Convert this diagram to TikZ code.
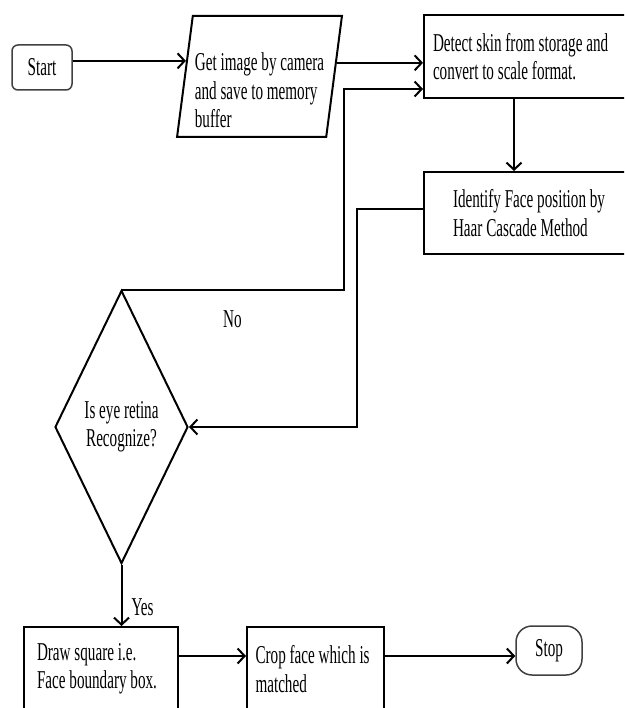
\documentclass[tikz,border=0pt]{standalone}
\usepackage{fontspec}
\setmainfont[FakeStretch=0.59]{Liberation Serif}
\usetikzlibrary{shapes.geometric,arrows.meta}

\begin{document}
\begin{tikzpicture}[
x=1pt,y=-1pt,
>={Straight Barb[length=7pt,width=15pt]},
every node/.style={font=\fontsize{25.7}{28.5}\selectfont},
terminal/.style={draw=black!75,line width=1.5pt,rounded corners=6pt},
process/.style={draw,line width=2pt,align=flush left,inner ysep=0pt},
io/.style={draw,line width=2pt,trapezium,trapezium left angle=81.6,trapezium right angle=98.4,
  trapezium stretches=true,minimum width=165pt,minimum height=121pt,align=left,inner sep=0pt},
decision/.style={draw,line width=2pt,diamond,minimum width=133pt,minimum height=273pt,align=center,inner sep=0pt},
flow/.style={->,line width=2pt}
]
\useasboundingbox (0,0) rectangle (624,708);
\clip (0,0) rectangle (624,708);

\node[terminal,minimum width=60pt,minimum height=45pt] (start) at (42,67.5) {Start};
\node[io] (get) at (259.5,76.5) {\rule{0pt}{46pt}Get image by camera\\and save to memory\\buffer};
\node[process,anchor=west,inner xsep=9pt,text width=200pt,minimum height=83pt] (detect) at (423,56.5)
  {Detect skin from storage and\\convert to scale format.};
\node[process,anchor=west,inner xsep=29pt,text width=180pt,minimum height=82pt] (identify) at (423,213)
  {Identify Face position by\\Haar Cascade Method};
\node[decision] (retina) at (121.5,427) {Is eye retina\\Recognize?};
\node[process,anchor=north west,inner xsep=13pt,text width=128pt,minimum height=84pt] (square) at (23,626)
  {Draw square i.e.\\Face boundary box.};
\node[process,anchor=north west,inner xsep=8.5pt,text width=120pt,minimum height=84pt] (crop) at (246,626)
  {Crop face which is\\matched};
\node[terminal,rounded corners=16pt,minimum width=66pt,minimum height=49pt] (stop) at (549,650.5) {Stop};

\draw[flow] (start.east |- get.168.6) -- (get.168.6);
\draw[flow] (get.10.8) -- (get.10.8 -| detect.west);
\draw[flow] ([xshift=91pt]detect.south west) -- ([xshift=91pt]detect.south west |- identify.north);
\draw[flow] ([yshift=4pt]identify.west) -- ++(-66,0) |- (retina.east);
\draw[flow] (retina.north) -- ++(222,0) node[midway,below=20pt,inner sep=0pt] {No}
  |- ([yshift=-32.5pt]detect.west);
\draw[flow] (retina.south) -- (retina.south |- square.north) node[pos=0.7,right=9pt,inner sep=0pt] {Yes};
\draw[flow] ([yshift=13pt]square.east) -- ([yshift=13pt]crop.west);
\draw[flow] ([yshift=13pt]crop.east) -- ([yshift=13pt]crop.east -| stop.west);
\end{tikzpicture}
\end{document}
